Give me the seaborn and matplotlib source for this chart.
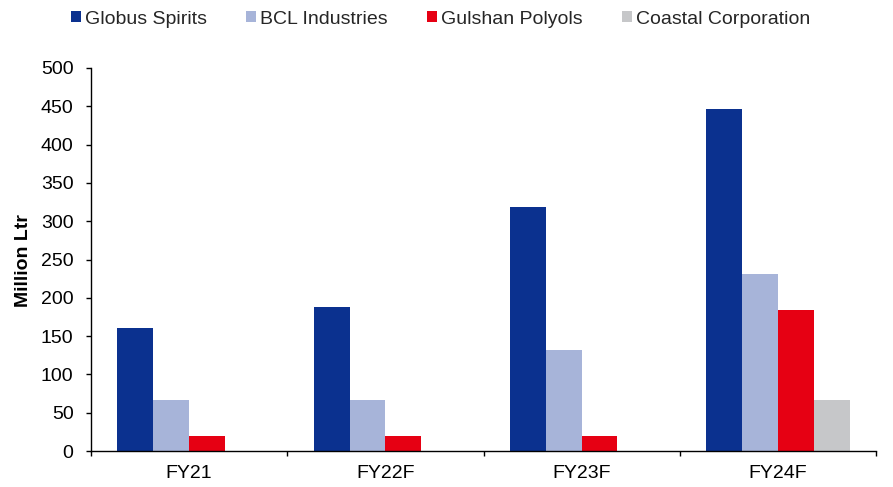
import matplotlib
matplotlib.use("Agg")
import matplotlib.pyplot as plt
import seaborn as sns
import pandas as pd
import numpy as np
from matplotlib.patches import Patch

years = ["FY21", "FY22F", "FY23F", "FY24F"]
companies = ["Globus Spirits", "BCL Industries", "Gulshan Polyols", "Coastal Corporation"]
globus = [160, 188, 318, 447]
bcl = [66, 66, 132, 231]
gulshan = [20, 20, 19, 184]
coastal = [0, 0, 0, 66]
colors = ["#0B318F", "#A7B4D9", "#E60013", "#C6C7C9"]

sns.set_theme(style="white")
plt.rcParams['font.family'] = ['Liberation Sans', 'DejaVu Sans']

rows = []
for c, vals in zip(companies, [globus, bcl, gulshan, coastal]):
    for y, v in zip(years, vals):
        rows.append({"Year": y, "Company": c, "Value": v})
df = pd.DataFrame(rows)

fig = plt.figure(figsize=(8.93, 4.87), dpi=100)
ax = fig.add_axes([91/893, 1-451/487, (876-91)/893, (451-68)/487])
sns.barplot(data=df, x="Year", y="Value", hue="Company", hue_order=companies,
            order=years, palette=colors, width=0.73, gap=0, linewidth=0,
            saturation=1, ax=ax, legend=False)

ax.set_ylim(0, 500)
ax.set_xlim(-0.5, 3.5)
ax.set_yticks(np.arange(0, 501, 50))
ax.set_ylabel("Million Ltr", fontsize=14, fontweight="bold", color="black")
ax.yaxis.set_label_coords((32-91)/785, 0.497)
ax.set_xlabel("")
for s in ["top", "right"]:
    ax.spines[s].set_visible(False)
for s in ["left", "bottom"]:
    ax.spines[s].set_color("black")
    ax.spines[s].set_linewidth(1.0)
ax.tick_params(axis="y", which="major", left=True, length=3.6, width=1, color="black",
               labelsize=14, pad=9, labelcolor="black")
ax.tick_params(axis="x", which="major", bottom=False, length=0, labelsize=14, pad=10,
               labelcolor="black")
ax.set_xticks(np.arange(-0.5, 3.6, 1.0), minor=True)
ax.tick_params(axis="x", which="minor", bottom=True, length=3.6, width=1, color="black")

handles = [Patch(facecolor=c, edgecolor="none") for c in colors]
fig.legend(handles, companies, loc="center left", bbox_to_anchor=(70.7/893, 1-19/487),
           ncol=4, frameon=False, fontsize=14, handlelength=0.52, handleheight=0.52,
           handletextpad=0.22, columnspacing=2.0, borderaxespad=0, borderpad=0)

fig.savefig("out.png", dpi=100)
